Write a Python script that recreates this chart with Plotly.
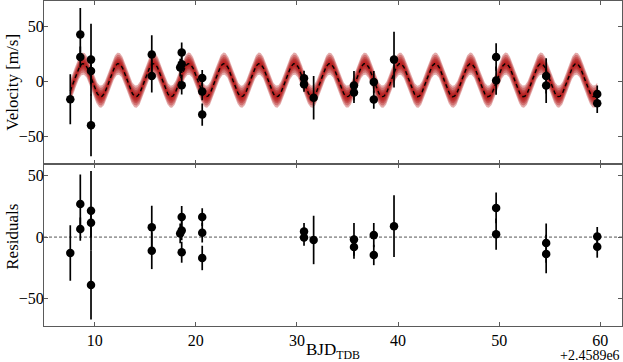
import numpy as np
import plotly.graph_objects as go

# ---- Data (time = BJD_TDB - 2458900) ----
t_obs = [7.58, 8.57, 8.57, 9.63, 9.63, 9.63, 15.64, 15.64,
         18.6, 18.6, 18.45, 18.6, 20.63, 20.63, 20.63,
         30.7, 30.7, 31.65, 35.64, 35.64, 37.6, 37.6, 39.6,
         49.7, 49.7, 54.65, 54.65, 59.7, 59.7]
rv = [-16.3, 42.3, 22.0, 19.6, 9.3, -39.9, 24.2, 4.8,
      26.0, 15.4, 12.4, -3.6, 3.0, -9.3, -30.2,
      2.7, -2.7, -15.0, -3.9, -10.2, -0.6, -16.6, 19.6,
      22.0, 0.6, 4.8, -3.9, -11.5, -19.9]
rv_err = [22.6, 24.0, 9.5, 32.5, 12.0, 28.0, 17.5, 15.0,
          9.0, 8.0, 8.0, 8.5, 7.3, 8.0, 10.0,
          6.8, 6.8, 19.7, 13.3, 9.6, 9.8, 8.3, 25.2,
          12.5, 12.8, 16.0, 15.7, 7.7, 8.9]
resid = [-13.0, 27.0, 6.5, 21.4, 11.6, -39.1, 8.1, -11.1,
         16.3, 5.4, 3.0, -12.4, 16.3, 3.5, -17.0,
         4.6, -0.3, -2.4, -1.9, -8.1, 1.6, -14.6, 8.9,
         23.8, 2.4, -4.9, -13.8, 0.5, -7.9]

# Best-fit circular-orbit model parameters
period = 3.484
t_peak = 26.27
semi_amp = 15.0
gamma = 1.0
band_halfwidths = [10.0, 8.0, 6.0, 4.5, 3.0, 1.5]

x_ticks = [10, 20, 30, 40, 50, 60]
y_ticks = [-50, 0, 50]

# ---- model curve ----
tm = np.linspace(min(t_obs), max(t_obs), 1200)
vm = gamma + semi_amp * np.cos(2 * np.pi * (tm - t_peak) / period)

FONT = "Liberation Serif, Times New Roman, serif"
AXC = "#5a5a5a"

fig = go.Figure()

for hw in band_halfwidths:
    fig.add_trace(go.Scatter(
        x=np.concatenate([tm, tm[::-1]]),
        y=np.concatenate([vm + hw, (vm - hw)[::-1]]),
        fill="toself", fillcolor="rgba(178,18,18,0.36)",
        line=dict(width=0), mode="lines", hoverinfo="skip",
        showlegend=False, xaxis="x", yaxis="y"))

fig.add_trace(go.Scatter(
    x=tm, y=vm, mode="lines",
    line=dict(color="black", width=1.4, dash="4px,3px"),
    showlegend=False, xaxis="x", yaxis="y"))

fig.add_trace(go.Scatter(
    x=t_obs, y=rv, mode="markers",
    marker=dict(color="black", size=8.5),
    error_y=dict(type="data", array=rv_err, visible=True,
                 color="black", thickness=1.7, width=0),
    showlegend=False, xaxis="x", yaxis="y"))

fig.add_trace(go.Scatter(
    x=t_obs, y=resid, mode="markers",
    marker=dict(color="black", size=8.5),
    error_y=dict(type="data", array=rv_err, visible=True,
                 color="black", thickness=1.7, width=0),
    showlegend=False, xaxis="x2", yaxis="y2"))

axis_common = dict(showline=True, linecolor=AXC, linewidth=1, mirror="allticks",
                   ticks="inside", ticklen=4, tickcolor=AXC, showgrid=False,
                   zeroline=False, automargin=False,
                   tickfont=dict(family=FONT, size=16, color="black"))

fig.update_layout(
    width=623, height=362, autosize=False,
    margin=dict(l=44, r=1, t=1, b=36, autoexpand=False),
    paper_bgcolor="white", plot_bgcolor="white",
    font=dict(family=FONT, color="black"),
    xaxis=dict(axis_common, domain=[0, 1], anchor="y", range=[4.98, 62.15],
               tickvals=x_ticks, showticklabels=False),
    yaxis=dict(axis_common, domain=[0.5, 1], anchor="x", range=[-74.5, 72.7],
               tickvals=y_ticks, ticklabelstandoff=-4),
    xaxis2=dict(axis_common, domain=[0, 1], anchor="y2", range=[4.98, 62.15],
                tickvals=x_ticks, matches="x"),
    yaxis2=dict(axis_common, domain=[0, 0.5], anchor="x2", range=[-72.5, 60.0],
                tickvals=y_ticks, ticklabelstandoff=-4),
    shapes=[dict(type="line", xref="x2 domain", yref="y2", x0=0, x1=1, y0=0, y1=0,
                 line=dict(color="#555555", width=1, dash="3px,2px"), layer="below")],
    annotations=[
        dict(text="Velocity [m/s]", xref="paper", yref="paper", x=-0.054, y=0.751,
             textangle=-90, showarrow=False, font=dict(family=FONT, size=17),
             xanchor="center", yanchor="middle"),
        dict(text="Residuals", xref="paper", yref="paper", x=-0.054, y=0.274,
             textangle=-90, showarrow=False, font=dict(family=FONT, size=17),
             xanchor="center", yanchor="middle"),
        dict(text="BJD<sub>TDB</sub>", xref="paper", yref="paper", x=0.5, y=-0.077,
             showarrow=False, font=dict(family=FONT, size=17),
             xanchor="center", yanchor="middle"),
        dict(text="+2.4589e6", xref="paper", yref="paper", x=1.0, y=-0.092,
             showarrow=False, font=dict(family=FONT, size=14),
             xanchor="right", yanchor="middle"),
    ],
)

post = (
    "document.documentElement.style.margin='0';"
    "document.documentElement.style.overflow='hidden';"
    "document.body.style.margin='0';document.body.style.padding='0';"
    "document.body.style.overflow='hidden';"
    "var gd=document.getElementById('{plot_id}');"
    "Plotly.relayout(gd,{width:623,height:362});"
)

fig.write_html("out.html", post_script=post, config={"displayModeBar": False})
